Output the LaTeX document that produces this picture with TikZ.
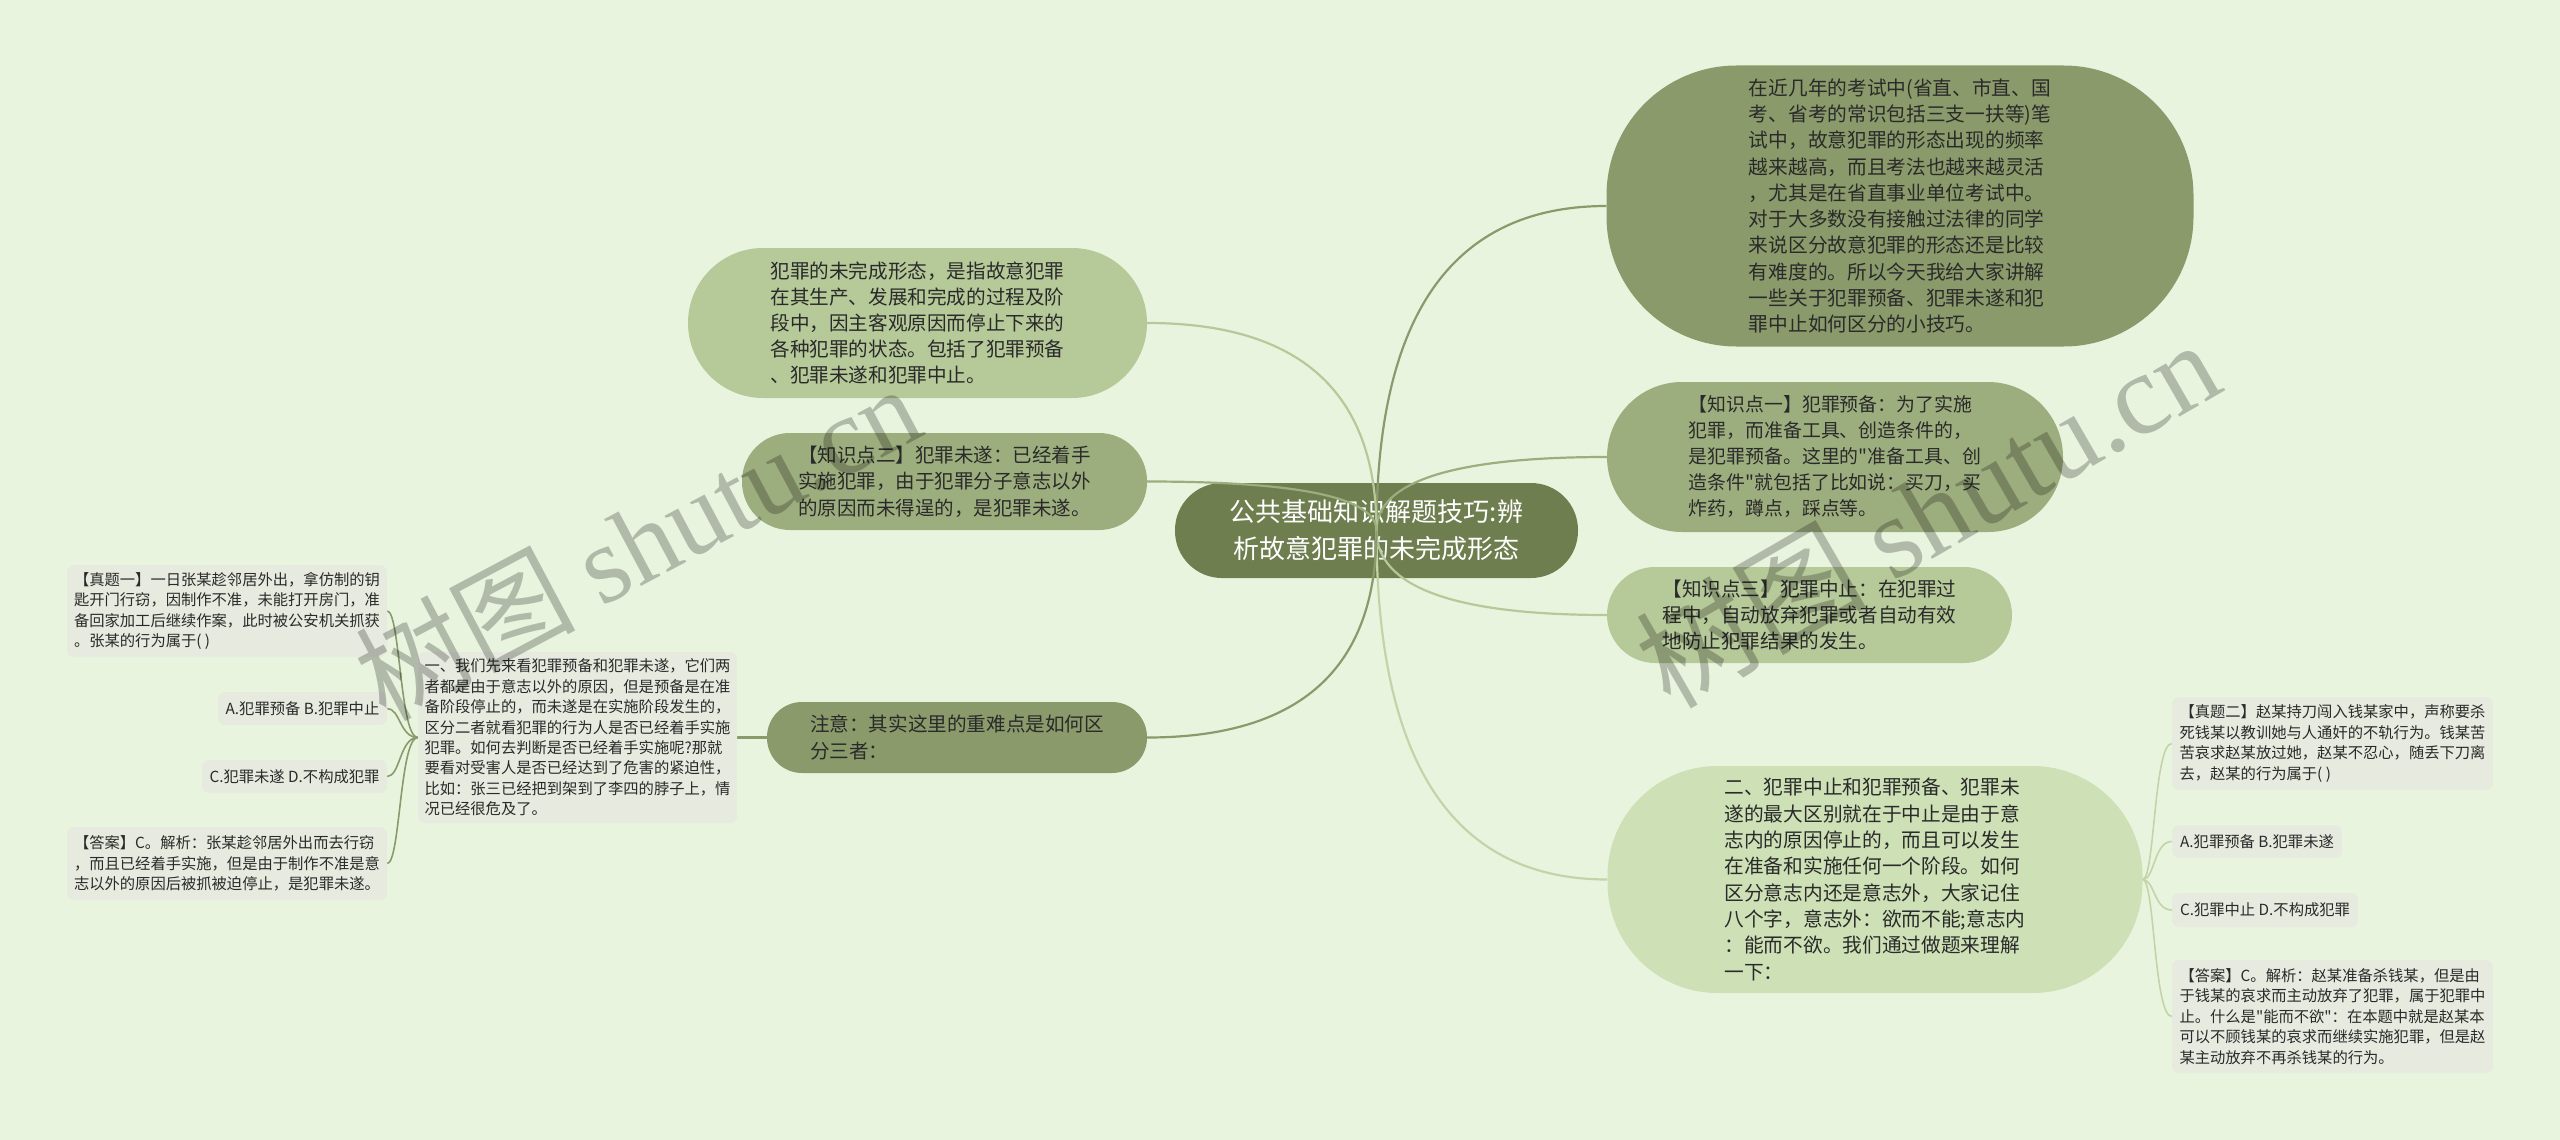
\documentclass[tikz,border=0pt]{standalone}
\usepackage{fontspec}
\setmainfont{Noto Sans CJK SC}
\newfontfamily\cjk{Noto Sans CJK SC}
\newfontfamily\wmserif{Liberation Serif}
\newcommand\fsz[2]{\cjk\fontsize{#1}{#2}\selectfont}
\usetikzlibrary{calc}
\pgfdeclarelayer{bgl}
\pgfdeclarelayer{rootl}
\pgfdeclarelayer{edges}
\pgfdeclarelayer{wml}
\pgfsetlayers{bgl,rootl,edges,main,wml}
\definecolor{bgc}{HTML}{E9F4DE}
\definecolor{cRoot}{HTML}{6E7E4F}
\definecolor{cA}{HTML}{8A9A6A}
\definecolor{cB}{HTML}{9DAE7E}
\definecolor{cC}{HTML}{B6C999}
\definecolor{cD}{HTML}{CDE0B6}
\definecolor{cDl}{HTML}{C2D5A8}
\definecolor{cBox}{HTML}{E7EADF}
\definecolor{txt}{HTML}{2A2A2A}
\tikzset{
  pill/.style={draw=none, inner sep=0pt, align=left, text=txt},
  sbox/.style={draw=none, fill=cBox, rounded corners=7pt, inner sep=0pt, align=left, text=txt,
    font=\fsz{15.3}{20.4}},
  edge/.style={line width=2.2pt},
  thin/.style={line width=1.6pt},
  quad/.style={to path={.. controls ($(\tikztostart)!0.6667!(\tikztostart |- \tikztotarget)$) and ($(\tikztotarget)!0.6667!(\tikztostart |- \tikztotarget)$) .. (\tikztotarget)}},
  wm/.style={text=black, opacity=0.24, inner sep=0pt}
}
\begin{document}
\begin{tikzpicture}[x=1pt, y=-1pt]
\begin{pgfonlayer}{bgl}
\fill[bgc] (0,0) rectangle (2560,1140);
\end{pgfonlayer}
\useasboundingbox (0,0) rectangle (2560,1140);

% root
\begin{pgfonlayer}{rootl}
\node[pill, align=center, text=white, fill=cRoot, minimum width=403, minimum height=95, rounded corners=47,
  font=\fsz{26}{37}] (root) at (1376.5,530.5)
  {公共基础知识解题技巧:辨\\析故意犯罪的未完成形态};
\end{pgfonlayer}

% right side
\node[pill, fill=cA, minimum width=587, minimum height=281, rounded corners=130,
  font=\fsz{19.7}{26.3}] (R1) at (1900,206)
  {在近几年的考试中(省直、市直、国\\
考、省考的常识包括三支一扶等)笔\\
试中，故意犯罪的形态出现的频率\\
越来越高，而且考法也越来越灵活\\
，尤其是在省直事业单位考试中。\\
对于大多数没有接触过法律的同学\\
来说区分故意犯罪的形态还是比较\\
有难度的。所以今天我给大家讲解\\
一些关于犯罪预备、犯罪未遂和犯\\
罪中止如何区分的小技巧。};

\node[pill, fill=cB, minimum width=456, minimum height=150, rounded corners=75,
  font=\fsz{18.9}{26}] (R2) at (1835,457)
  {【知识点一】犯罪预备：为了实施\\
犯罪，而准备工具、创造条件的，\\
是犯罪预备。这里的"准备工具、创\\
造条件"就包括了比如说：买刀，买\\
炸药，蹲点，踩点等。};

\node[pill, fill=cC, minimum width=405, minimum height=96, rounded corners=48,
  font=\fsz{19.6}{26}] (R3) at (1809.5,615)
  {【知识点三】犯罪中止：在犯罪过\\
程中，自动放弃犯罪或者自动有效\\
地防止犯罪结果的发生。};

\node[pill, fill=cD, minimum width=535, minimum height=227, rounded corners=110,
  font=\fsz{19.7}{26.3}] (R4) at (1875,879.5)
  {二、犯罪中止和犯罪预备、犯罪未\\
遂的最大区别就在于中止是由于意\\
志内的原因停止的，而且可以发生\\
在准备和实施任何一个阶段。如何\\
区分意志内还是意志外，大家记住\\
八个字，意志外：欲而不能;意志内\\
：能而不欲。我们通过做题来理解\\
一下：};

% left side
\node[pill, fill=cC, minimum width=459, minimum height=150, rounded corners=75,
  font=\fsz{19.6}{26}] (L1) at (917.5,323)
  {犯罪的未完成形态，是指故意犯罪\\
在其生产、发展和完成的过程及阶\\
段中，因主客观原因而停止下来的\\
各种犯罪的状态。包括了犯罪预备\\
、犯罪未遂和犯罪中止。};

\node[pill, fill=cB, minimum width=405, minimum height=97, rounded corners=48,
  font=\fsz{19.5}{26.7}] (L2) at (944.5,481.5)
  {【知识点二】犯罪未遂：已经着手\\
实施犯罪，由于犯罪分子意志以外\\
的原因而未得逞的，是犯罪未遂。};

\node[pill, fill=cA, minimum width=380, minimum height=71, rounded corners=35,
  font=\fsz{19.6}{26.7}] (L3) at (957,737.5)
  {注意：其实这里的重难点是如何区\\
分三者：};

\node[sbox, minimum width=319, minimum height=171] (L3c) at (577.5,737.5)
  {一、我们先来看犯罪预备和犯罪未遂，它们两\\
者都是由于意志以外的原因，但是预备是在准\\
备阶段停止的，而未遂是在实施阶段发生的，\\
区分二者就看犯罪的行为人是否已经着手实施\\
犯罪。如何去判断是否已经着手实施呢?那就\\
要看对受害人是否已经达到了危害的紧迫性，\\
比如：张三已经把到架到了李四的脖子上，情\\
况已经很危及了。};

\node[sbox, minimum width=320, minimum height=92] (LA) at (227,611)
  {【真题一】一日张某趁邻居外出，拿仿制的钥\\
匙开门行窃，因制作不准，未能打开房门，准\\
备回家加工后继续作案，此时被公安机关抓获\\
。张某的行为属于( )};

\node[sbox, minimum width=169, minimum height=33] (LB) at (302.5,708.5)
  {A.犯罪预备 B.犯罪中止};

\node[sbox, minimum width=185, minimum height=33] (LC) at (294.5,776.5)
  {C.犯罪未遂 D.不构成犯罪};

\node[sbox, minimum width=320, minimum height=73] (LD) at (227,863.5)
  {【答案】C。解析：张某趁邻居外出而去行窃\\
，而且已经着手实施，但是由于制作不准是意\\
志以外的原因后被抓被迫停止，是犯罪未遂。};

% right small boxes
\node[sbox, minimum width=321, minimum height=93] (RA) at (2332.5,743.5)
  {【真题二】赵某持刀闯入钱某家中，声称要杀\\
死钱某以教训她与人通奸的不轨行为。钱某苦\\
苦哀求赵某放过她，赵某不忍心，随丢下刀离\\
去，赵某的行为属于( )};

\node[sbox, minimum width=170, minimum height=33] (RB) at (2257,841.5)
  {A.犯罪预备 B.犯罪未遂};

\node[sbox, minimum width=186, minimum height=34] (RC) at (2265,910)
  {C.犯罪中止 D.不构成犯罪};

\node[sbox, minimum width=321, minimum height=113] (RD) at (2332.5,1016.5)
  {【答案】C。解析：赵某准备杀钱某，但是由\\
于钱某的哀求而主动放弃了犯罪，属于犯罪中\\
止。什么是"能而不欲"：在本题中就是赵某本\\
可以不顾钱某的哀求而继续实施犯罪，但是赵\\
某主动放弃不再杀钱某的行为。};

% connectors
\begin{pgfonlayer}{edges}
\draw[edge, draw=cA] (root.center) to[quad] (R1.west);
\draw[edge, draw=cB] (root.center) to[quad] (R2.west);
\draw[edge, draw=cC] (root.center) to[quad] (R3.west);
\draw[edge, draw=cDl] (root.center) to[quad] (R4.west);
\draw[edge, draw=cC] (root.center) to[quad] (L1.east);
\draw[edge, draw=cB] (root.center) to[quad] (L2.east);
\draw[edge, draw=cA] (root.center) to[quad] (L3.east);
\draw[edge, draw=cA] (L3.west) -- (L3c.east);
\foreach \t in {LA,LB,LC,LD}
  \draw[thin, draw=cA] (L3c.west) .. controls +(-18,0) and +(13,0) .. (\t.east);
\foreach \t in {RA,RB,RC,RD}
  \draw[thin, draw=cDl] (R4.east) .. controls +(12,0) and +(-18,0) .. (\t.west);
\end{pgfonlayer}

% watermarks
\begin{pgfonlayer}{wml}
\node[wm, rotate=28, font=\fsz{110}{110}] (wm1) at (637,541)
  {树图 {\wmserif shutu.cn}};
\node[wm, rotate=30, font=\fsz{115}{115}] (wm2) at (1927,512)
  {树图 {\wmserif shutu.cn}};
\end{pgfonlayer}
\end{tikzpicture}
\end{document}
